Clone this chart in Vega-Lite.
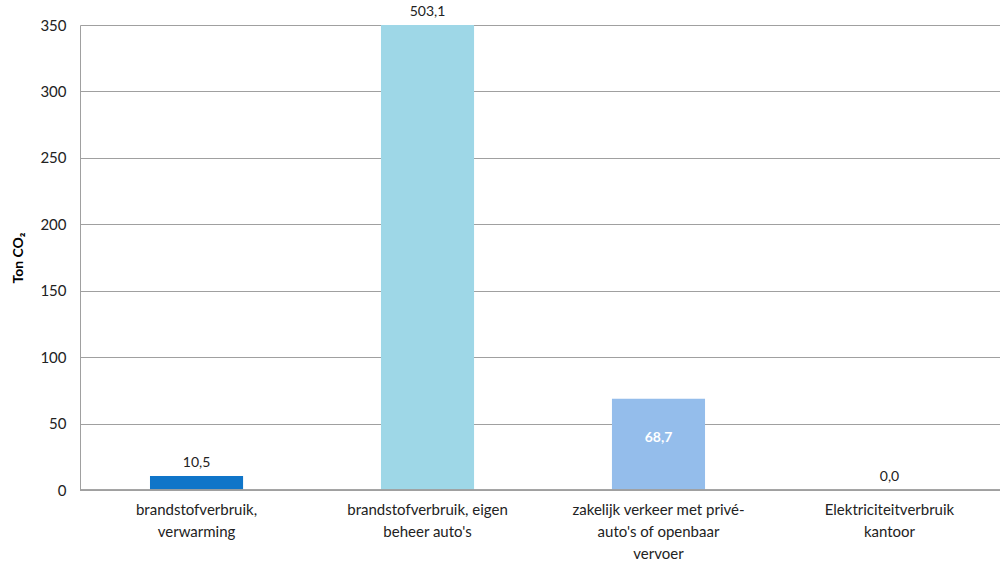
{
  "$schema": "https://vega.github.io/schema/vega-lite/v6.json",
  "width": 926,
  "height": 465,
  "autosize": "none",
  "padding": {"left": 80, "top": 25, "right": -6, "bottom": 83},
  "config": {
    "view": {"stroke": null},
    "font": "Lato",
    "locale": {"number": {"decimal": ",", "thousands": ".", "grouping": [3], "currency": ["€", ""]}}
  },
  "data": {
    "values": [
      {"cat": "brandstofverbruik, verwarming", "value": 10.5, "color": "#0F75C9"},
      {"cat": "brandstofverbruik, eigen beheer auto's", "value": 503.1, "color": "#9ED7E7"},
      {"cat": "zakelijk verkeer met privé-auto's of openbaar vervoer", "value": 68.7, "color": "#94BDEB"},
      {"cat": "Elektriciteitverbruik kantoor", "value": 0.0, "color": "#9ED7E7"}
    ]
  },
  "encoding": {
    "x": {
      "field": "cat", "type": "nominal", "sort": null,
      "scale": {"paddingInner": 0.597, "paddingOuter": 0.303},
      "axis": {
        "title": null, "labelAngle": 0, "ticks": false, "domain": false,
        "labelPadding": 12, "labelFontSize": 15, "labelColor": "#222222",
        "labelLineHeight": 22, "labelBaseline": "top",
        "labelExpr": "datum.value == 'brandstofverbruik, verwarming' ? ['brandstofverbruik,', 'verwarming'] : datum.value == \"brandstofverbruik, eigen beheer auto's\" ? ['brandstofverbruik, eigen', \"beheer auto's\"] : datum.value == 'Elektriciteitverbruik kantoor' ? ['Elektriciteitverbruik', 'kantoor'] : ['zakelijk verkeer met privé-', \"auto's of openbaar\", 'vervoer']"
      }
    },
    "y": {
      "field": "value", "type": "quantitative",
      "scale": {"domain": [0, 350], "clamp": true, "nice": false},
      "axis": {
        "title": "Ton CO₂", "titleFontSize": 14, "titleFontWeight": "bold", "titleColor": "#000000",
        "titlePadding": 14,
        "values": [0, 50, 100, 150, 200, 250, 300, 350],
        "format": "d",
        "ticks": false, "labelPadding": 14, "labelFontSize": 15, "labelColor": "#222222",
        "domainColor": "#A0A0A0", "gridColor": "#A0A0A0", "gridWidth": 1.2
      }
    }
  },
  "layer": [
    {
      "mark": {"type": "bar", "clip": true},
      "encoding": {"color": {"field": "color", "type": "nominal", "scale": null}}
    },
    {
      "mark": {"type": "rule", "color": "#A0A0A0", "strokeWidth": 1.2},
      "encoding": {"y": {"datum": 0}, "x": null}
    },
    {
      "transform": [{"filter": "datum.value < 30 || datum.value > 300"}],
      "mark": {"type": "text", "baseline": "middle", "dy": -13, "fontSize": 14, "color": "#222222"},
      "encoding": {"text": {"field": "value", "type": "quantitative", "format": ".1f"}}
    },
    {
      "transform": [{"filter": "datum.value > 30 && datum.value < 300"}],
      "mark": {"type": "text", "baseline": "middle", "fontSize": 14, "fontWeight": "bold", "color": "#FFFFFF"},
      "encoding": {
        "y": {"datum": 39, "type": "quantitative"},
        "text": {"field": "value", "type": "quantitative", "format": ".1f"}
      }
    }
  ]
}
